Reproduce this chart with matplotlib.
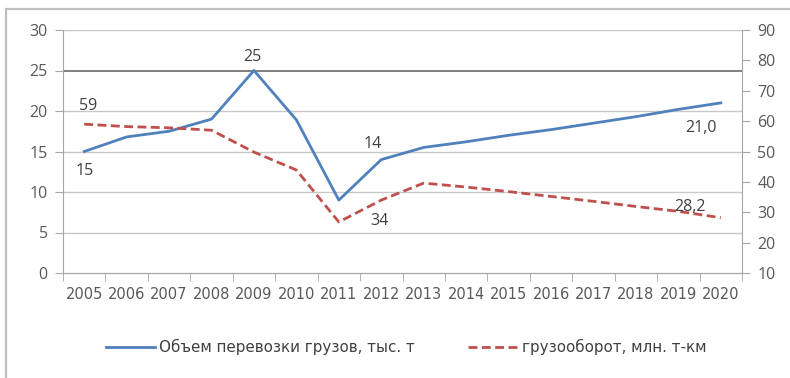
import matplotlib
matplotlib.use("Agg")
import matplotlib.pyplot as plt
from matplotlib.patches import Rectangle

years = [str(y) for y in range(2005, 2021)]
cargo_volume = [15, 16.8, 17.5, 19, 25, 18.9, 9, 14, 15.5, 16.2, 17.0, 17.7, 18.5, 19.3, 20.2, 21.0]
cargo_turnover = [59, 58.2, 57.8, 57, 49.8, 43.9, 26.8, 34, 39.6, 38.3, 36.8, 35.2, 33.6, 31.9, 30.3, 28.2]

label_volume = "Объем перевозки грузов, тыс. т"
label_turnover = "грузооборот, млн. т-км"

blue = "#4F81BD"
red = "#C0504D"
grey_text = "#595959"
axis_grey = "#A6A6A6"

fig = plt.figure(figsize=(7.9, 3.78), dpi=100)
fig.patch.set_facecolor("white")

# outer chart frame
fig.add_artist(Rectangle((6 / 790, -0.1), 1.2, 1 - 9 / 378 + 0.1, transform=fig.transFigure,
                         fill=False, edgecolor="#BFBFBF", linewidth=1.6))

ax = fig.add_axes([63 / 790, 1 - 273 / 378, (742 - 63) / 790, (273 - 30) / 378])
ax2 = ax.twinx()

x = list(range(len(years)))

ax.set_xlim(-0.5, len(years) - 0.5)
ax.set_ylim(0, 30)
ax.set_yticks(range(0, 31, 5))
ax2.set_ylim(10, 90)
ax2.set_yticks(range(10, 91, 10))

# horizontal gridlines from the left scale
for v in range(5, 31, 5):
    ax.axhline(v, color="#808080" if v == 25 else "#C8C8C8",
               linewidth=1.4 if v == 25 else 1.0, zorder=0)

ln1, = ax.plot(x, cargo_volume, color=blue, linewidth=2.0, zorder=3, label=label_volume)
ln2, = ax2.plot(x, cargo_turnover, color=red, linewidth=2.0, dashes=(3.2, 1.6), zorder=3,
                label=label_turnover)

ax.set_xticks(x)
ax.set_xticklabels(years)
ax.set_xticks([i - 0.5 for i in range(len(years) + 1)], minor=True)
ax.tick_params(axis="x", which="major", length=0, pad=10)
ax.tick_params(axis="x", which="minor", length=6, color=axis_grey, direction="out")
ax.tick_params(axis="y", length=6, color=axis_grey, labelsize=11.5, labelcolor=grey_text, pad=5)
ax2.tick_params(axis="y", length=6, color=axis_grey, labelsize=11.5, labelcolor=grey_text, pad=5)

for lab in ax.get_xticklabels():
    lab.set_family(["DejaVu Sans"])
    lab.set_fontsize(10.5)
    lab.set_color(grey_text)
for lab in ax.get_yticklabels() + ax2.get_yticklabels():
    lab.set_family(["Open Sans", "DejaVu Sans"])

for a in (ax, ax2):
    a.spines["top"].set_visible(False)
    a.spines["left"].set_color(axis_grey)
    a.spines["right"].set_color(axis_grey)
    a.spines["bottom"].set_color(axis_grey)
ax.spines["right"].set_visible(False)
ax2.spines["left"].set_visible(False)

# value labels
lab_kw = dict(fontsize=11.5, color="#404040", family=["Open Sans", "DejaVu Sans"])
ax.annotate(f"{cargo_volume[0]:g}", (x[0], cargo_volume[0]), xytext=(0, -14),
            textcoords="offset points", ha="center", va="center", **lab_kw)
ax.annotate(f"{cargo_volume[4]:g}", (x[4], cargo_volume[4]), xytext=(-1, 10),
            textcoords="offset points", ha="center", va="center", **lab_kw)
ax.annotate(f"{cargo_volume[7]:g}", (x[7], cargo_volume[7]), xytext=(-6, 11),
            textcoords="offset points", ha="center", va="center", **lab_kw)
ax.annotate(f"{cargo_volume[-1]:.1f}".replace(".", ","), (x[-1], cargo_volume[-1]),
            xytext=(-14, -18), textcoords="offset points", ha="center", va="center", **lab_kw)
ax2.annotate(f"{cargo_turnover[0]:g}", (x[0], cargo_turnover[0]), xytext=(3, 13),
             textcoords="offset points", ha="center", va="center", **lab_kw)
ax2.annotate(f"{cargo_turnover[7]:g}", (x[7], cargo_turnover[7]), xytext=(-1, -15),
             textcoords="offset points", ha="center", va="center", **lab_kw)
ax2.annotate(f"{cargo_turnover[-1]:.1f}".replace(".", ","), (x[-1], cargo_turnover[-1]),
             xytext=(-22, 8), textcoords="offset points", ha="center", va="center", **lab_kw)

leg = fig.legend(handles=[ln1, ln2], loc="center", bbox_to_anchor=(406 / 790, 1 - 347 / 378),
                 ncol=2, frameon=False, handlelength=3.25, handletextpad=0.3, columnspacing=3.5,
                 borderpad=0, prop={"family": ["DejaVu Sans"], "size": 10.9})
for t in leg.get_texts():
    t.set_color("#404040")

fig.savefig("out.png", dpi=100, facecolor="white")
